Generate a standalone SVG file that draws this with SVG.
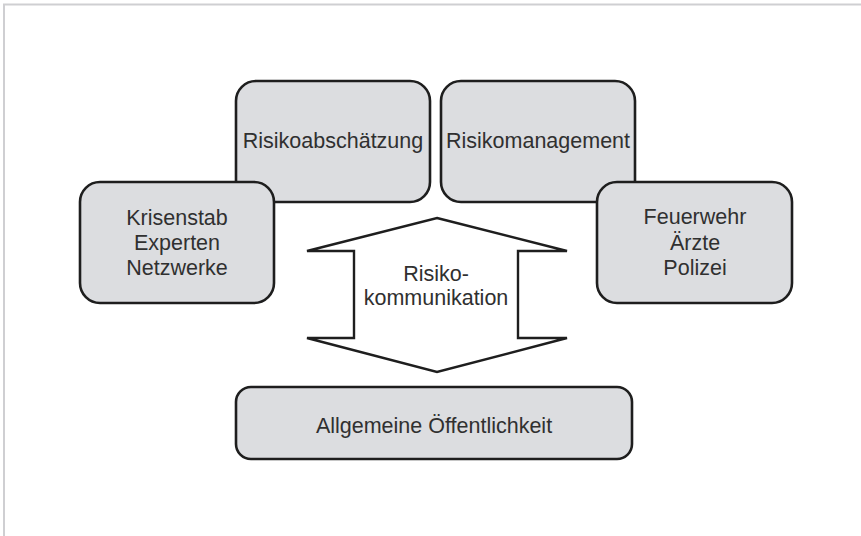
<svg xmlns="http://www.w3.org/2000/svg" width="861" height="536" viewBox="0 0 861 536">
  <style>
    .box { fill: #dcdde0; stroke: #1e1e1e; stroke-width: 2.6; }
    .lbl { font-family: "Liberation Sans", Arial, sans-serif; font-size: 21.5px; fill: #303030; text-anchor: middle; }
    .arrow { fill: #ffffff; stroke: #1e1e1e; stroke-width: 2.4; stroke-linejoin: miter; }
  </style>
  <rect x="0" y="0" width="861" height="536" fill="#ffffff"/>
  <!-- page frame -->
  <path d="M4,536 V4.5 H861" fill="none" stroke="#cfcfd2" stroke-width="2"/>

  <g id="risikoabschaetzung">
    <rect class="box" x="236" y="81" width="194" height="121" rx="20" ry="20"/>
    <text class="lbl" x="333" y="148">Risikoabschätzung</text>
  </g>
  <g id="risikomanagement">
    <rect class="box" x="441" y="81" width="194" height="121" rx="20" ry="20"/>
    <text class="lbl" x="538" y="148">Risikomanagement</text>
  </g>
  <g id="krisenstab">
    <rect class="box" x="80" y="182" width="194" height="121" rx="20" ry="20"/>
    <text class="lbl" x="177" y="225">Krisenstab</text>
    <text class="lbl" x="177" y="250">Experten</text>
    <text class="lbl" x="177" y="275">Netzwerke</text>
  </g>
  <g id="einsatzkraefte">
    <rect class="box" x="597" y="182" width="195" height="121" rx="20" ry="20"/>
    <text class="lbl" x="695" y="224">Feuerwehr</text>
    <text class="lbl" x="695" y="250">Ärzte</text>
    <text class="lbl" x="695" y="275">Polizei</text>
  </g>

  <g id="connectors">
    <g id="risikokommunikation">
      <polygon class="arrow" points="437,218 567,251 518,251 518,338 567,338 437,372 307,338 354,338 354,251 307,251"/>
      <text class="lbl" x="436" y="281">Risiko-</text>
      <text class="lbl" x="436" y="305">kommunikation</text>
    </g>
  </g>

  <g id="oeffentlichkeit">
    <rect class="box" x="236" y="387" width="396" height="72" rx="15" ry="15"/>
    <text class="lbl" x="434" y="433">Allgemeine Öffentlichkeit</text>
  </g>
</svg>
